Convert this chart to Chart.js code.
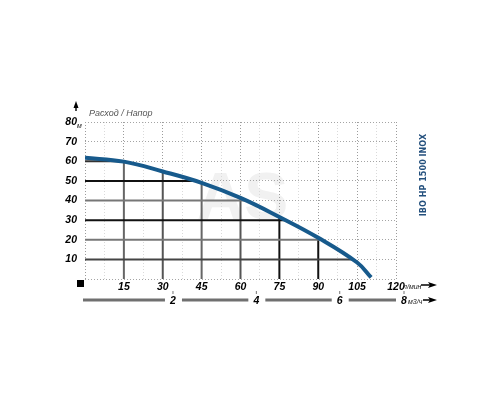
<!DOCTYPE html>
<html>
<head>
<meta charset="utf-8">
<script src="https://cdn.jsdelivr.net/npm/chart.js@4"></script>
<style>
    html, body { margin: 0; padding: 0; background: #fff; }
    #wrap { width: 500px; height: 400px; }
</style>
</head>
<body>
<div id="wrap"><canvas id="chart" width="500" height="400"></canvas></div>
<script>
// pump curve
const flowLmin = [0, 15, 30, 45, 60, 75, 90, 105, 110.4];
const headM = [61.8, 59.8, 54.8, 49, 41.3, 31.6, 21, 8.4, 0.8];

// solid lines under the curve
const gridHeads = [60, 50, 40, 30, 20, 10];
const gridHeadColors = ['#333', '#111', '#777', '#111', '#777', '#444'];
const gridFlows = [15, 30, 45, 60, 75, 90];
const gridFlowColors = ['#666', '#555', '#666', '#555', '#111', '#111'];

// second flow axis, m3/h
const m3hTicks = [2, 4, 6, 8];

const title = 'IBO HP 1500 INOX';

// linear lookups on the curve
function headAt(q) {
    for (let i = 1; i < flowLmin.length; i++) {
        if (q <= flowLmin[i]) {
            const t = (q - flowLmin[i - 1]) / (flowLmin[i] - flowLmin[i - 1]);
            return headM[i - 1] + t * (headM[i] - headM[i - 1]);
        }
    }
    return headM[headM.length - 1];
}

function flowAt(h) {
    for (let i = 1; i < headM.length; i++) {
        if (h >= headM[i]) {
            const t = (headM[i - 1] - h) / (headM[i - 1] - headM[i]);
            return flowLmin[i - 1] + t * (flowLmin[i] - flowLmin[i - 1]);
        }
    }
    return flowLmin[0];
}

const segments = [];
gridHeads.forEach((h, i) => {
    segments.push({
        data: [{ x: 0, y: h }, { x: flowAt(h), y: h }],
        borderColor: gridHeadColors[i],
        borderWidth: 2,
        showLine: true,
        pointRadius: 0,
        order: 1
    });
});
gridFlows.forEach((q, i) => {
    segments.push({
        data: [{ x: q, y: 0 }, { x: q, y: headAt(q) }],
        borderColor: gridFlowColors[i],
        borderWidth: 2,
        showLine: true,
        pointRadius: 0,
        order: 1
    });
});

const curve = {
    data: flowLmin.map((q, i) => ({ x: q, y: headM[i] })),
    borderColor: '#175a8c',
    borderWidth: 4,
    showLine: true,
    pointRadius: 0,
    tension: 0.4,
    order: 0
};

const labelFont = 'bold italic 10.5px "Liberation Sans", Arial, sans-serif';

function arrowRight(ctx, x0, x1, y) {
    ctx.strokeStyle = '#000';
    ctx.lineWidth = 1.5;
    ctx.beginPath();
    ctx.moveTo(x0, y);
    ctx.lineTo(x1 - 6, y);
    ctx.stroke();
    ctx.fillStyle = '#000';
    ctx.beginPath();
    ctx.moveTo(x1, y);
    ctx.lineTo(x1 - 9, y - 3);
    ctx.lineTo(x1 - 7, y);
    ctx.lineTo(x1 - 9, y + 3);
    ctx.closePath();
    ctx.fill();
}

const decorations = {
    id: 'decorations',
    beforeDraw(chart) {
        const ctx = chart.ctx;
        const a = chart.chartArea;
        ctx.save();
        // watermark
        ctx.fillStyle = '#f1f1f1';
        ctx.font = 'bold 66px "Liberation Sans", Arial, sans-serif';
        ctx.textAlign = 'center';
        ctx.textBaseline = 'middle';
        ctx.fillText('AS', (a.left + a.right) / 2 + 2, 201);
        ctx.restore();
    },
    afterDraw(chart) {
        const ctx = chart.ctx;
        const a = chart.chartArea;
        const x2 = chart.scales.x2;
        ctx.save();

        // up arrow + caption
        ctx.fillStyle = '#000';
        ctx.beginPath();
        ctx.moveTo(76, 101);
        ctx.lineTo(73.5, 108);
        ctx.lineTo(78.5, 108);
        ctx.closePath();
        ctx.fill();
        ctx.fillRect(75.3, 106, 1.4, 5);

        ctx.fillStyle = '#555';
        ctx.font = 'italic 9px "Liberation Sans", Arial, sans-serif';
        ctx.textAlign = 'left';
        ctx.textBaseline = 'middle';
        ctx.fillText('Расход / Напор', 89, 113);

        // units
        ctx.fillStyle = '#222';
        ctx.font = 'italic 7px "Liberation Sans", Arial, sans-serif';
        ctx.fillText('м', 77, 126);
        ctx.fillText('л/мин', 403, 287);
        arrowRight(ctx, 421, 437, 285);

        // origin square
        ctx.fillStyle = '#000';
        ctx.fillRect(77, 280, 7, 7);

        // lower m3/h axis
        const y = 300;
        const pos = m3hTicks.map(v => Math.min(x2.getPixelForValue(v), a.right + 8));
        ctx.strokeStyle = '#707070';
        ctx.lineWidth = 3;
        let start = 83;
        pos.forEach(px => {
            ctx.beginPath();
            ctx.moveTo(start, y);
            ctx.lineTo(px - 8, y);
            ctx.stroke();
            start = px + 9;
        });
        ctx.font = labelFont;
        ctx.textAlign = 'center';
        ctx.fillStyle = '#000';
        pos.forEach((px, i) => {
            ctx.fillStyle = '#777';
            ctx.fillRect(px - 0.5, 291, 1, 3);
            ctx.fillStyle = '#000';
            ctx.fillText(String(m3hTicks[i]), px, y + 1);
        });
        ctx.fillStyle = '#222';
        ctx.font = 'italic 7px "Liberation Sans", Arial, sans-serif';
        ctx.textAlign = 'left';
        const last = pos[pos.length - 1];
        ctx.fillText('м3/ч', last + 4, y + 2);
        arrowRight(ctx, last + 19, last + 33, y);

        // model name
        ctx.translate(424, 175);
        ctx.rotate(-Math.PI / 2);
        ctx.fillStyle = '#24507d';
        ctx.font = 'bold 9px "Liberation Sans Narrow", "DejaVu Sans Condensed", sans-serif';
        ctx.textAlign = 'center';
        ctx.textBaseline = 'middle';
        ctx.fillText(title, 0, 0);
        ctx.restore();
    }
};

new Chart(document.getElementById('chart').getContext('2d'), {
    type: 'scatter',
    data: { datasets: [curve, ...segments] },
    options: {
        responsive: false,
        animation: false,
        layout: { padding: { left: 0, top: 122, right: 104, bottom: 101 } },
        plugins: {
            legend: { display: false },
            tooltip: { enabled: false }
        },
        scales: {
            x: {
                type: 'linear',
                min: 0,
                max: 120,
                border: { display: false, dash: [1, 2] },
                grid: {
                    drawTicks: false,
                    color: c => (c.tick.value % 15 === 0 ? '#9c9c9c' : '#dadada')
                },
                ticks: {
                    stepSize: 7.5,
                    autoSkip: false,
                    maxRotation: 0,
                    padding: 2,
                    color: '#000',
                    font: { family: '"Liberation Sans", Arial, sans-serif', size: 10.5, weight: 'bold', style: 'italic' },
                    callback: v => (v > 0 && v % 15 === 0 ? String(v) : '')
                },
                afterFit: s => { s.height = 20; }
            },
            x2: {
                type: 'linear',
                display: false,
                min: -0.11,
                max: 7.35
            },
            y: {
                type: 'linear',
                min: 0,
                max: 80,
                border: { display: false, dash: [1, 2] },
                grid: {
                    drawTicks: false,
                    color: '#a4a4a4'
                },
                ticks: {
                    stepSize: 10,
                    padding: 8,
                    color: '#000',
                    font: { family: '"Liberation Sans", Arial, sans-serif', size: 10.5, weight: 'bold', style: 'italic' },
                    callback: v => (v > 0 ? String(v) : '')
                },
                afterFit: s => { s.width = 85; }
            }
        }
    },
    plugins: [decorations]
});
</script>
</body>
</html>
